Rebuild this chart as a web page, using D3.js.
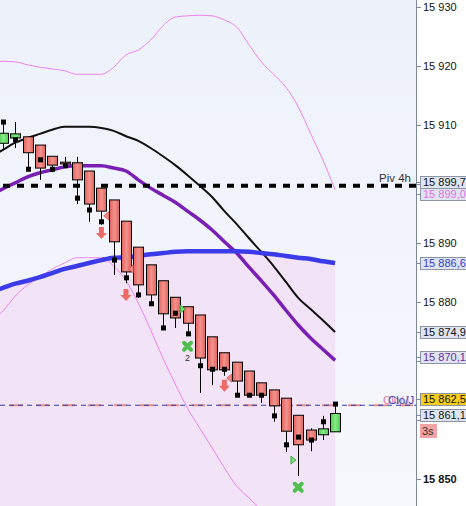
<!DOCTYPE html>
<html><head><meta charset="utf-8">
<script src="https://cdn.jsdelivr.net/npm/d3@7"></script>
<style>html,body{margin:0;padding:0;background:#fff}svg{display:block}</style>
</head><body>
<script>
// ---- data ----
const candleIdx = d3.range(0, 28);
const open  = [15906.9,15907.8,15908.0,15906.6,15904.7,15903.7,15903.6,15902.2,15899.3,15897.3,15893.7,15889.3,15886.3,15883.6,15880.8,15879.2,15877.8,15874.1,15871.4,15869.8,15868.3,15866.3,15865.1,15863.7,15860.8,15858.3,15857.5,15858.0];
const high  = [15910.5,15910.5,15908.0,15906.6,15904.7,15904.6,15904.6,15902.2,15899.3,15897.3,15893.7,15889.3,15886.3,15883.6,15880.8,15879.2,15877.8,15874.1,15871.4,15869.8,15868.3,15866.3,15865.1,15863.7,15860.8,15858.6,15860.7,15862.7];
const low   = [15905.8,15906.1,15902.5,15900.7,15902.0,15903.1,15896.6,15893.6,15893.1,15884.6,15883.2,15880.7,15879.7,15875.6,15875.6,15874.6,15864.6,15865.9,15867.5,15864.2,15864.2,15862.9,15859.7,15854.6,15850.5,15854.7,15856.6,15858.0];
const close = [15908.6,15908.5,15905.3,15902.7,15903.2,15903.4,15900.7,15896.6,15895.4,15890.2,15885.1,15882.9,15881.2,15878.0,15877.3,15876.4,15870.5,15868.5,15868.5,15866.6,15864.2,15864.2,15862.4,15858.1,15855.8,15856.6,15858.5,15861.1];
const sar   = [15910.5,15907.5,15902.5,15904.1,15902.5,15903.1,15897.6,15895.6,15893.6,15887.1,15884.1,15881.2,15879.7,15875.6,15878.1,15874.6,15869.2,15868.6,15868.6,15864.2,15864.2,15864.2,15860.7,15855.8,15857.1,15856.6,15859.7,15862.7];

// indicator lines, index -1 .. 27
const lineIdx = d3.range(-1, 28);
const emaBlack = [15904.6,15905.8,15907.0,15907.8,15908.5,15909.2,15909.7,15909.7,15909.7,15909.5,15909.0,15908.1,15907.3,15906.1,15904.7,15903.2,15901.5,15899.7,15897.8,15895.4,15893.2,15890.8,15888.5,15886.1,15883.4,15880.7,15878.8,15876.9,15874.9];
const midBand  = [15898.0,15899.2,15900.2,15901.2,15901.9,15902.4,15902.9,15903.1,15903.1,15903.1,15902.7,15902.2,15900.7,15899.3,15898.1,15896.9,15895.4,15893.9,15892.2,15890.2,15888.3,15885.9,15883.6,15881.2,15878.6,15876.1,15873.9,15872.0,15870.1];
const smaBlue  = [15881.7,15882.4,15883.1,15883.6,15884.2,15884.9,15885.6,15886.1,15886.6,15887.1,15887.5,15887.6,15887.8,15888.1,15888.3,15888.5,15888.6,15888.6,15888.6,15888.6,15888.6,15888.5,15888.3,15888.1,15887.8,15887.5,15887.3,15886.9,15886.6];
const upBand   = [15920.3,15920.8,15920.7,15920.2,15919.8,15919.5,15919.2,15918.6,15918.6,15918.6,15919.8,15921.9,15922.7,15924.4,15926.8,15928.3,15928.5,15928.6,15928.5,15927.8,15926.6,15923.6,15920.7,15918.6,15916.4,15913.1,15908.6,15904.1,15899.0];
const lowBand  = [15876.6,15878.5,15881.0,15882.9,15884.2,15885.6,15886.6,15887.5,15887.5,15887.5,15886.1,15883.6,15879.8,15875.3,15870.5,15866.1,15862.0,15858.6,15855.3,15851.9,15848.8,15846.8,15844.7,15842.2,15840.8,15839.2,15839.2,15840.0,15841.2];

// levels
const pivot4h = 15899.7;
const closeJ = 15862.5;
const tickValues = [15850,15860,15870,15880,15890,15900,15910,15920,15930];
const tickShown  = ["15 850","","","15 880","15 890","","15 910","15 920","15 930"];

// signal markers: [candle index, price]
const downArrows = [[8,15891.7],[10,15881.2],[18,15865.8]];
const leftTris   = [[9,15894.6],[11,15885.6],[19,15867.1]];
const rightTris  = [[14,15878.8],[23,15853.2]];
const greenX     = [[15,15872.5,"2"],[24,15848.6,""]];

// price box labels (yv = where the box sits)
const boxLabels = [
  {text:"15 899,7", yv:15900.3, color:"#111", fill:"#dfe5f0"},
  {text:"15 899,0", yv:15898.3, color:"#e46fe4", fill:"#dfe5f0"},
  {text:"15 886,6", yv:15886.6, color:"#3a3ad0", fill:"#dfe5f0"},
  {text:"15 874,9", yv:15874.9, color:"#111", fill:"#dfe5f0"},
  {text:"15 870,1", yv:15870.6, color:"#6a2aa0", fill:"#dfe5f0"},
  {text:"15 862,5", yv:15863.6, color:"#111", fill:"#f7cd1a"},
  {text:"15 861,1", yv:15860.9, color:"#111", fill:"#dfe5f0"}
];

// ---- drawing ----
const W = 466, H = 506, axisX = 416;
const svg = d3.select("body").append("svg").attr("width", W).attr("height", H)
  .style("font-family", "'Liberation Sans', Arial, sans-serif");

const x = d3.scaleLinear().domain([0, 27]).range([3, 3 + 27*12.3]);
const y = d3.scaleLinear().domain([15850, 15930]).range([479, 7]);

const defs = svg.append("defs");
const bg = defs.append("linearGradient").attr("id","bg").attr("x1",0).attr("y1",0).attr("x2",0).attr("y2",1);
bg.append("stop").attr("offset","0").attr("stop-color","#edf1fa");
bg.append("stop").attr("offset","1").attr("stop-color","#f6f8fd");
const rg = defs.append("linearGradient").attr("id","red");
rg.append("stop").attr("offset","0").attr("stop-color","#e2625e");
rg.append("stop").attr("offset","0.5").attr("stop-color","#f2928c");
rg.append("stop").attr("offset","1").attr("stop-color","#e2625e");
const gg = defs.append("linearGradient").attr("id","green");
gg.append("stop").attr("offset","0").attr("stop-color","#4ccc4c");
gg.append("stop").attr("offset","0.5").attr("stop-color","#86ea86");
gg.append("stop").attr("offset","1").attr("stop-color","#4ccc4c");
defs.append("clipPath").attr("id","plot").append("rect").attr("x",0).attr("y",0).attr("width",axisX).attr("height",H);

svg.append("rect").attr("width",axisX).attr("height",H).attr("fill","url(#bg)");

const plot = svg.append("g").attr("clip-path","url(#plot)");
const lx = i => x(lineIdx[i]);

// fill under blue line
plot.append("path")
  .datum(smaBlue)
  .attr("fill","#f2e3f7")
  .attr("d", d3.area().x((d,i)=>lx(i)).y0(H).y1(d=>y(d)).curve(d3.curveMonotoneX));

function drawLine(vals, color, width){
  plot.append("path").datum(vals).attr("fill","none").attr("stroke",color)
    .attr("stroke-width",width).attr("stroke-linejoin","round")
    .attr("d", d3.line().x((d,i)=>lx(i)).y(d=>y(d)).curve(d3.curveMonotoneX));
}
drawLine(upBand, "#ee82ee", 1);
drawLine(lowBand, "#ee82ee", 1);
drawLine(emaBlack, "#111", 2);
drawLine(midBand, "#7a1fb4", 3.5);
drawLine(smaBlue, "#3b3bea", 4.5);

// pivot line
plot.append("line").attr("x1",3).attr("x2",axisX).attr("y1",y(pivot4h)).attr("y2",y(pivot4h))
  .attr("stroke","#000").attr("stroke-width",4).attr("stroke-dasharray","7,7");
svg.append("text").attr("x",411).attr("y",y(pivot4h)-4).attr("text-anchor","end")
  .attr("font-size",11.5).attr("fill","#333").text("Piv 4h");

// close J line
plot.append("line").attr("x1",10).attr("x2",axisX).attr("y1",y(closeJ)).attr("y2",y(closeJ))
  .attr("stroke","#e0908a").attr("stroke-width",2).attr("stroke-dasharray","13,13");
plot.append("line").attr("x1",0).attr("x2",axisX).attr("y1",y(closeJ)).attr("y2",y(closeJ))
  .attr("stroke","#2f3fb0").attr("stroke-width",1).attr("stroke-dasharray","5,4");
svg.append("text").attr("x",383).attr("y",y(closeJ)-1).attr("font-size",11.5).attr("fill","#e07aa0").text("Clo/J");
svg.append("text").attr("x",388).attr("y",y(closeJ)-1).attr("font-size",11.5).attr("fill","#3a40c0").text("Clo/J");

// candles
const bw = 10;
const cg = plot.append("g");
candleIdx.forEach(i=>{
  const cx = Math.round(x(i)) + 0.5;
  cg.append("line").attr("x1",cx).attr("x2",cx).attr("y1",y(high[i])).attr("y2",y(low[i]))
    .attr("stroke","#000").attr("stroke-width",1);
  const up = close[i] >= open[i];
  const top = y(Math.max(open[i],close[i])), bot = y(Math.min(open[i],close[i]));
  cg.append("rect").attr("x",cx-bw/2).attr("y",top).attr("width",bw).attr("height",Math.max(1,bot-top))
    .attr("fill", up ? "url(#green)" : "url(#red)").attr("stroke","#000").attr("stroke-width",1);
});
// sar squares
cg.selectAll("rect.sar").data(candleIdx).enter().append("rect").attr("class","sar")
  .attr("x",i=>Math.round(x(i))+0.5-2.5).attr("y",i=>y(sar[i])-2.5).attr("width",5).attr("height",5).attr("fill","#000");

// signals
downArrows.forEach(([i,v])=>{
  const cx = x(i), cy = y(v);
  plot.append("path").attr("fill","#ec6b66")
    .attr("d",`M${cx-2.5},${cy-6}L${cx+2.5},${cy-6}L${cx+2.5},${cy}L${cx+5.5},${cy}L${cx},${cy+6}L${cx-5.5},${cy}L${cx-2.5},${cy}Z`);
});
leftTris.forEach(([i,v])=>{
  const cx = x(i)-bw/2-1, cy = y(v);
  plot.append("path").attr("fill","#f08a84").attr("stroke","#e0504a").attr("stroke-width",0.8)
    .attr("d",`M${cx-4},${cy}L${cx+1},${cy-4}L${cx+1},${cy+4}Z`);
});
rightTris.forEach(([i,v])=>{
  const cx = x(i)+bw/2+1, cy = y(v);
  plot.append("path").attr("fill","#7be07b").attr("stroke","#2aa02a").attr("stroke-width",0.8)
    .attr("d",`M${cx+4},${cy}L${cx-1},${cy-4}L${cx-1},${cy+4}Z`);
});
greenX.forEach(([i,v,lab])=>{
  const cx = x(i), cy = y(v), s = 3.5;
  plot.append("path").attr("stroke","#4fc04f").attr("stroke-width",4).attr("stroke-linecap","round")
    .attr("d",`M${cx-s},${cy-s}L${cx+s},${cy+s}M${cx+s},${cy-s}L${cx-s},${cy+s}`);
  if (lab) plot.append("text").attr("x",cx).attr("y",cy+15).attr("text-anchor","middle")
    .attr("font-size",9).attr("fill","#333").text(lab);
});

// right axis
const ax = svg.append("g");
ax.append("rect").attr("x",axisX).attr("y",0).attr("width",W-axisX).attr("height",H).attr("fill","#fff");
ax.append("line").attr("x1",axisX+0.5).attr("x2",axisX+0.5).attr("y1",0).attr("y2",H).attr("stroke","#7d8898").attr("stroke-width",1);
tickValues.forEach((v,k)=>{
  ax.append("line").attr("x1",axisX).attr("x2",axisX+5).attr("y1",Math.round(y(v))+0.5).attr("y2",Math.round(y(v))+0.5)
    .attr("stroke","#7d8898");
  if (tickShown[k]) ax.append("text").attr("x",423).attr("y",y(v)+4).attr("font-size",11)
    .attr("font-weight", v===15850 ? "bold" : "normal").attr("fill","#111").text(tickShown[k]);
});
boxLabels.forEach(b=>{
  const cy = y(b.yv);
  ax.append("rect").attr("x",420.5).attr("y",Math.round(cy-6)+0.5).attr("width",50).attr("height",12)
    .attr("fill",b.fill).attr("stroke","#8b95a6").attr("stroke-width",1);
  ax.append("line").attr("x1",axisX).attr("x2",421).attr("y1",Math.round(cy)+0.5).attr("y2",Math.round(cy)+0.5).attr("stroke","#7d8898");
  ax.append("text").attr("x",423).attr("y",cy+4).attr("font-size",11).attr("fill",b.color).text(b.text);
});
// timer badge
ax.append("rect").attr("x",420).attr("y",424).attr("width",17).attr("height",14).attr("fill","#f2a3a3");
ax.append("text").attr("x",422).attr("y",435).attr("font-size",11).attr("fill","#333").text("3s");
</script>
</body></html>
